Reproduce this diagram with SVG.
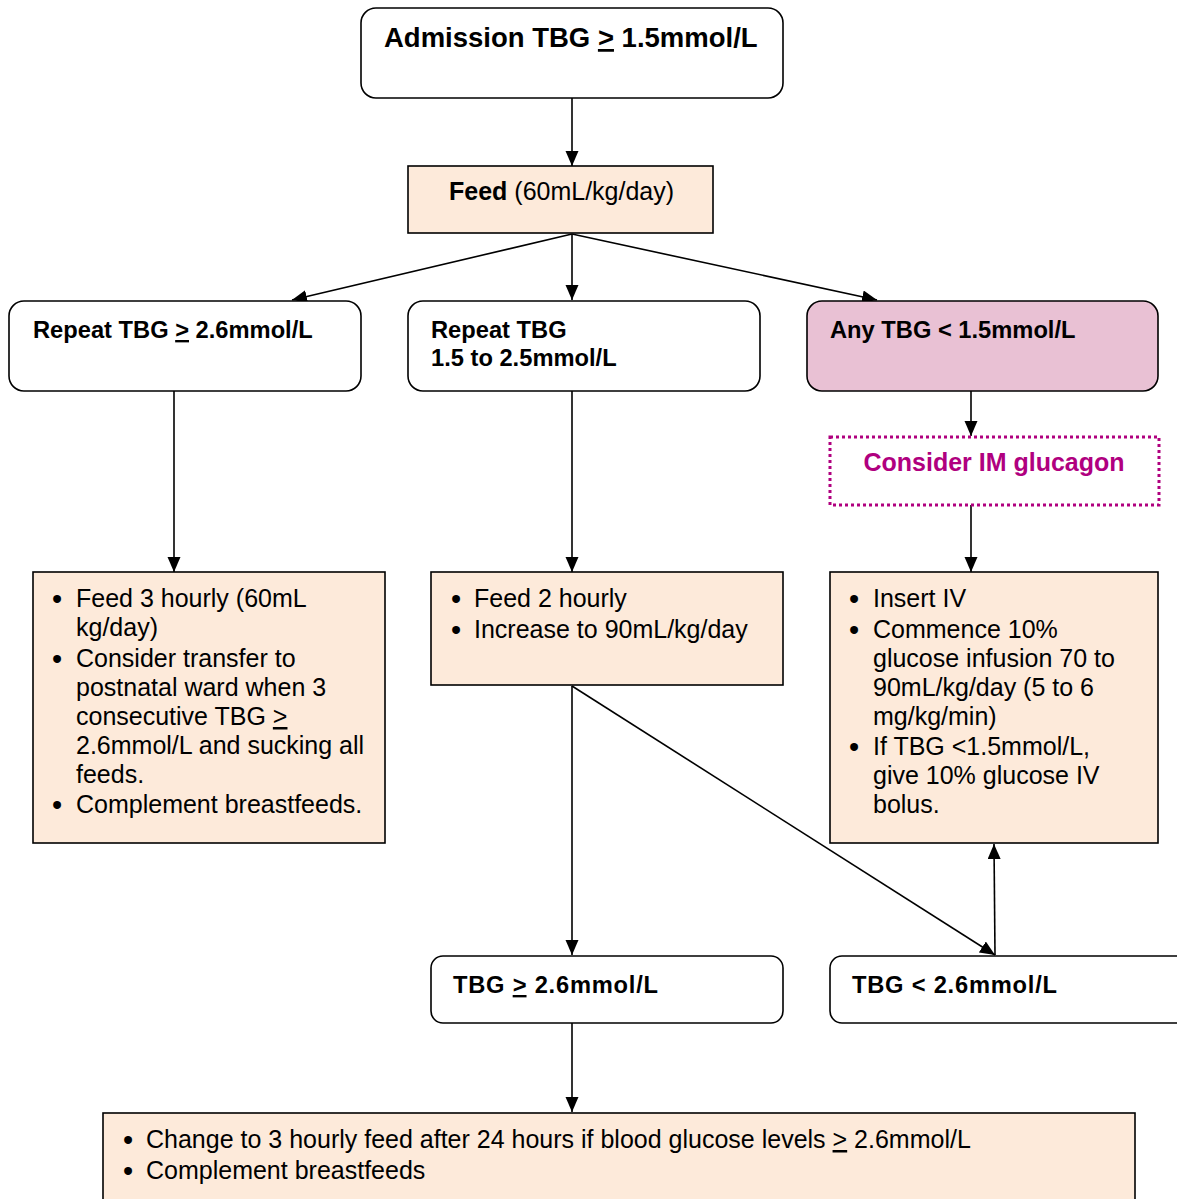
<svg xmlns="http://www.w3.org/2000/svg" width="1177" height="1199" viewBox="0 0 1177 1199">
<defs>
<style>
.box{fill:#fff;stroke:#000;stroke-width:1.6}
.peach{fill:#FDEADA;stroke:#000;stroke-width:1.6}
.pink{fill:#E9C1D4;stroke:#000;stroke-width:1.6}
.dot{fill:#fff;stroke:#B0007F;stroke-width:3;stroke-dasharray:3 3}
.t{font-family:"Liberation Sans",Arial,sans-serif;fill:#000}
.title{font-size:27.5px;font-weight:bold}
.lbl{font-size:23.7px;font-weight:bold}
.body{font-size:25px}
.bul{font-size:29px;font-family:"Liberation Sans",Arial,sans-serif;fill:#000}
.mag{fill:#B0007F;font-size:25px;font-weight:bold}
.c{stroke:#000;stroke-width:1.6;fill:none;marker-end:url(#ah)}
</style>
<marker id="ah" markerUnits="userSpaceOnUse" markerWidth="16" markerHeight="14" refX="15" refY="6.5" orient="auto">
<path d="M0,0 L15,6.5 L0,13 z" fill="#000"/>
</marker>
</defs>

<g id="connectors">
<line class="c" x1="572" y1="98" x2="572" y2="166"/>
<line class="c" x1="572" y1="234" x2="292" y2="300"/>
<line class="c" x1="572" y1="234" x2="572" y2="300"/>
<line class="c" x1="572" y1="234" x2="877" y2="300"/>
<line class="c" x1="174" y1="391" x2="174" y2="572"/>
<line class="c" x1="572" y1="391" x2="572" y2="572"/>
<line class="c" x1="971" y1="391" x2="971" y2="436"/>
<line class="c" x1="971" y1="505" x2="971" y2="572"/>
<line class="c" x1="572" y1="686" x2="572" y2="955"/>
<line class="c" x1="572" y1="686" x2="995" y2="955"/>
<line class="c" x1="995" y1="955" x2="994" y2="844"/>
<line class="c" x1="572" y1="1023" x2="572" y2="1112"/>
</g>

<g id="admission">
<rect class="box" x="361" y="8" width="422" height="90" rx="15"/>
<text class="t title" x="384" y="47">Admission TBG <tspan text-decoration="underline">&gt;</tspan> 1.5mmol/L</text>
</g>

<g id="feed">
<rect class="peach" x="408" y="166" width="305" height="67"/>
<text class="t body" x="449" y="200"><tspan font-weight="bold">Feed</tspan> (60mL/kg/day)</text>
</g>

<g id="repeat-high">
<rect class="box" x="9" y="301" width="352" height="90" rx="15"/>
<text class="t lbl" x="33" y="338">Repeat TBG <tspan text-decoration="underline">&gt;</tspan> 2.6mmol/L</text>
</g>

<g id="repeat-mid">
<rect class="box" x="408" y="301" width="352" height="90" rx="15"/>
<text class="t lbl" x="431" y="338">Repeat TBG</text>
<text class="t lbl" x="431" y="366">1.5 to 2.5mmol/L</text>
</g>

<g id="any-low">
<rect class="pink" x="807" y="301" width="351" height="90" rx="15"/>
<text class="t lbl" x="830" y="338">Any TBG &lt; 1.5mmol/L</text>
</g>

<g id="glucagon">
<rect class="dot" x="830" y="437" width="329" height="68"/>
<text class="t mag" x="994" y="471" text-anchor="middle">Consider IM glucagon</text>
</g>

<g id="plan-high">
<rect class="peach" x="33" y="572" width="352" height="271"/>
<g class="bul">
<text x="52" y="609">•</text>
<text x="52" y="669">•</text>
<text x="52" y="815">•</text>
</g>
<g class="t body">
<text x="76" y="607">Feed 3 hourly (60mL</text>
<text x="76" y="636">kg/day)</text>
<text x="76" y="667">Consider transfer to</text>
<text x="76" y="696">postnatal ward when 3</text>
<text x="76" y="725">consecutive TBG <tspan text-decoration="underline">&gt;</tspan></text>
<text x="76" y="754">2.6mmol/L and sucking all</text>
<text x="76" y="783">feeds.</text>
<text x="76" y="813">Complement breastfeeds.</text>
</g>
</g>

<g id="plan-mid">
<rect class="peach" x="431" y="572" width="352" height="113"/>
<g class="bul">
<text x="451" y="609">•</text>
<text x="451" y="640">•</text>
</g>
<g class="t body">
<text x="474" y="607">Feed 2 hourly</text>
<text x="474" y="638">Increase to 90mL/kg/day</text>
</g>
</g>

<g id="plan-low">
<rect class="peach" x="830" y="572" width="328" height="271"/>
<g class="bul">
<text x="849" y="609">•</text>
<text x="849" y="640">•</text>
<text x="849" y="757">•</text>
</g>
<g class="t body">
<text x="873" y="607">Insert IV</text>
<text x="873" y="638">Commence 10%</text>
<text x="873" y="667">glucose infusion 70 to</text>
<text x="873" y="696">90mL/kg/day (5 to 6</text>
<text x="873" y="725">mg/kg/min)</text>
<text x="873" y="755">If TBG &lt;1.5mmol/L,</text>
<text x="873" y="784">give 10% glucose IV</text>
<text x="873" y="813">bolus.</text>
</g>
</g>

<g id="tbg-high">
<rect class="box" x="431" y="956" width="352" height="67" rx="12"/>
<text class="t lbl" x="453" y="993" textLength="205">TBG <tspan text-decoration="underline">&gt;</tspan> 2.6mmol/L</text>
</g>

<g id="tbg-low">
<rect class="box" x="830" y="956" width="360" height="67" rx="12"/>
<text class="t lbl" x="852" y="993" textLength="205">TBG &lt; 2.6mmol/L</text>
</g>

<g id="final">
<rect class="peach" x="103" y="1113" width="1032" height="110"/>
<g class="bul">
<text x="123" y="1150">•</text>
<text x="123" y="1181">•</text>
</g>
<g class="t body">
<text x="146" y="1148">Change to 3 hourly feed after 24 hours if blood glucose levels <tspan text-decoration="underline">&gt;</tspan> 2.6mmol/L</text>
<text x="146" y="1179">Complement breastfeeds</text>
</g>
</g>
</svg>
